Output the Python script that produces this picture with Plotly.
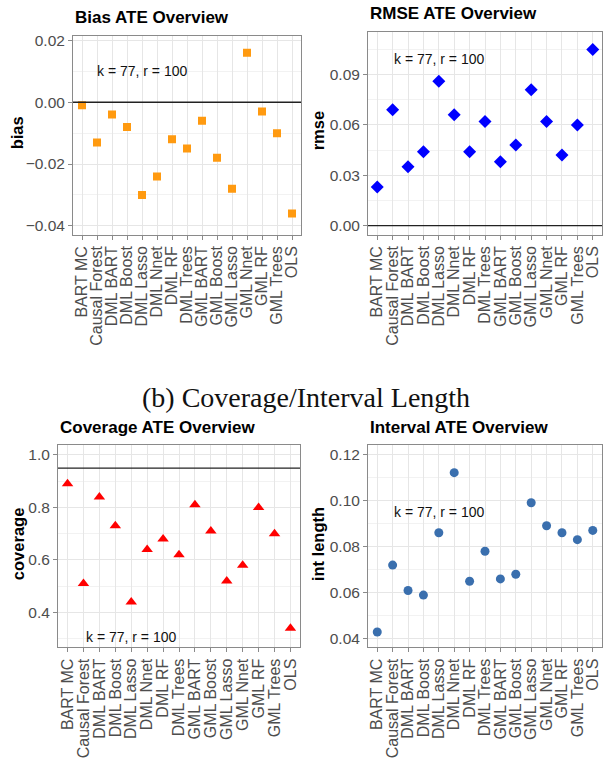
import plotly.graph_objects as go

# Estimators compared in every panel
methods = ["BART MC", "Causal Forest", "DML BART", "DML Boost", "DML Lasso",
           "DML Nnet", "DML RF", "DML Trees", "GML BART", "GML Boost",
           "GML Lasso", "GML Nnet", "GML RF", "GML Trees", "OLS"]

bias = [-0.001, -0.013, -0.004, -0.008, -0.030, -0.024, -0.012, -0.015,
        -0.006, -0.018, -0.028, 0.016, -0.003, -0.010, -0.036]
rmse = [0.023, 0.069, 0.035, 0.044, 0.086, 0.066, 0.044, 0.062,
        0.038, 0.048, 0.081, 0.062, 0.042, 0.060, 0.105]
coverage = [0.89, 0.51, 0.84, 0.73, 0.44, 0.64, 0.68, 0.62,
            0.81, 0.71, 0.52, 0.58, 0.80, 0.70, 0.34]
int_length = [0.043, 0.072, 0.061, 0.059, 0.086, 0.112, 0.065, 0.078,
              0.066, 0.068, 0.099, 0.089, 0.086, 0.083, 0.087]

bias_ticks = [-0.04, -0.02, 0.00, 0.02]
rmse_ticks = [0.00, 0.03, 0.06, 0.09]
coverage_ticks = [0.4, 0.6, 0.8, 1.0]
int_ticks = [0.04, 0.06, 0.08, 0.10, 0.12]

note = "k = 77, r = 100"

W, H = 603, 760


def px_x(p):
    return p / W


def px_y(p):
    return 1 - p / H


GRID = "#e6e6e6"
MINOR = "#f2f2f2"
BORDER = "#8a8a8a"
TICKFONT = "#4d4d4d"
FONT = "Liberation Sans, Arial, sans-serif"

fig = go.Figure()

panels = [
    dict(y=bias, symbol="square", color="#FF9A10", size=8, ticks=bias_ticks, fmt=".2f",
         minor=0.01, yr=[-0.0429, 0.0215], hline=0.0, title="Bias ATE Overview",
         ylab="bias", xd=(73, 301), yd=(32, 232), note_y=0.01, lab_x=17),
    dict(y=rmse, symbol="diamond", color="#0000FF", size=10, ticks=rmse_ticks, fmt=".2f",
         minor=0.015, yr=[-0.0055, 0.1155], hline=0.0, title="RMSE ATE Overview",
         ylab="rmse", xd=(368, 602), yd=(28, 232), note_y=0.0995, lab_x=318),
    dict(y=coverage, symbol="triangle-up", color="#FF0000", size=10, ticks=coverage_ticks,
         fmt=".1f", minor=0.1, yr=[0.267, 1.038], hline=0.95, title="Coverage ATE Overview",
         ylab="coverage", xd=(58, 300), yd=(443.3, 646.7), note_y=0.308, lab_x=18),
    dict(y=int_length, symbol="circle", color="#3A6FAE", size=9, ticks=int_ticks, fmt=".2f",
         minor=0.01, yr=[0.0364, 0.124], hline=None, title="Interval ATE Overview",
         ylab="int length", xd=(368, 602), yd=(443.3, 646.7), note_y=0.0948, lab_x=318),
]

annotations = []
shapes = []

for i, p in enumerate(panels, start=1):
    xa = "x" if i == 1 else f"x{i}"
    ya = "y" if i == 1 else f"y{i}"
    xk = "xaxis" if i == 1 else f"xaxis{i}"
    yk = "yaxis" if i == 1 else f"yaxis{i}"

    fig.add_trace(go.Scatter(
        x=methods, y=p["y"], mode="markers", xaxis=xa, yaxis=ya,
        marker=dict(symbol=p["symbol"], color=p["color"], size=p["size"],
                    line=dict(width=0)),
        showlegend=False, hoverinfo="x+y",
    ))

    fig.layout[xk] = dict(
        domain=[px_x(p["xd"][0]), px_x(p["xd"][1])],
        anchor=ya, type="category", categoryorder="array", categoryarray=methods,
        range=[-0.6, len(methods) - 0.4],
        tickmode="array", tickvals=methods, ticktext=methods,
        showgrid=True, gridcolor=GRID, gridwidth=1,
        showline=True, mirror=True, linecolor=BORDER, linewidth=1,
        ticks="outside", ticklen=4, tickcolor=BORDER,
        tickangle=-90, tickfont=dict(family=FONT, size=16, color=TICKFONT),
        zeroline=False, fixedrange=True,
    )
    fig.layout[yk] = dict(
        domain=[px_y(p["yd"][1]), px_y(p["yd"][0])],
        anchor=xa, range=p["yr"],
        tickvals=p["ticks"], tickformat=p["fmt"],
        showgrid=True, gridcolor=GRID, gridwidth=1,
        minor=dict(showgrid=True, gridcolor=MINOR, dtick=p["minor"], tick0=0),
        showline=True, mirror=True, linecolor=BORDER, linewidth=1,
        ticks="outside", ticklen=4, tickcolor=BORDER,
        tickfont=dict(family=FONT, size=15.5, color=TICKFONT),
        zeroline=False, fixedrange=True,
    )

    if p["hline"] is not None:
        shapes.append(dict(type="line", xref=f"{xa} domain", yref=ya,
                           x0=0, x1=1, y0=p["hline"], y1=p["hline"],
                           line=dict(color="#222222", width=1.3)))

    # reference text inside the panel
    annotations.append(dict(
        x=methods[4], y=p["note_y"], xref=xa, yref=ya, text=note, showarrow=False,
        xanchor="center", yanchor="middle",
        font=dict(family=FONT, size=14, color="#111111"),
    ))
    # panel title
    annotations.append(dict(
        x=px_x(p["xd"][0]), y=px_y(p["yd"][0] - 18), xref="paper", yref="paper",
        text=f"<b>{p['title']}</b>", showarrow=False, xanchor="left", yanchor="middle",
        font=dict(family=FONT, size=17, color="#000000"),
    ))
    # y-axis label
    annotations.append(dict(
        x=px_x(p["lab_x"]), y=px_y((p["yd"][0] + p["yd"][1]) / 2 - 2),
        xref="paper", yref="paper", text=f"<b>{p['ylab']}</b>", showarrow=False,
        textangle=-90, xanchor="center", yanchor="middle",
        font=dict(family=FONT, size=16.5, color="#000000"),
    ))

annotations.append(dict(
    x=px_x(306), y=px_y(396), xref="paper", yref="paper",
    text="(b) Coverage/Interval Length", showarrow=False,
    xanchor="center", yanchor="middle",
    font=dict(family="Liberation Serif, DejaVu Serif, serif", size=28, color="#111111"),
))

fig.update_layout(
    width=W, height=H,
    margin=dict(l=0, r=0, t=0, b=0),
    paper_bgcolor="white", plot_bgcolor="white",
    annotations=annotations, shapes=shapes,
    showlegend=False,
)

fig.write_html("out.html", config={"displayModeBar": False})
